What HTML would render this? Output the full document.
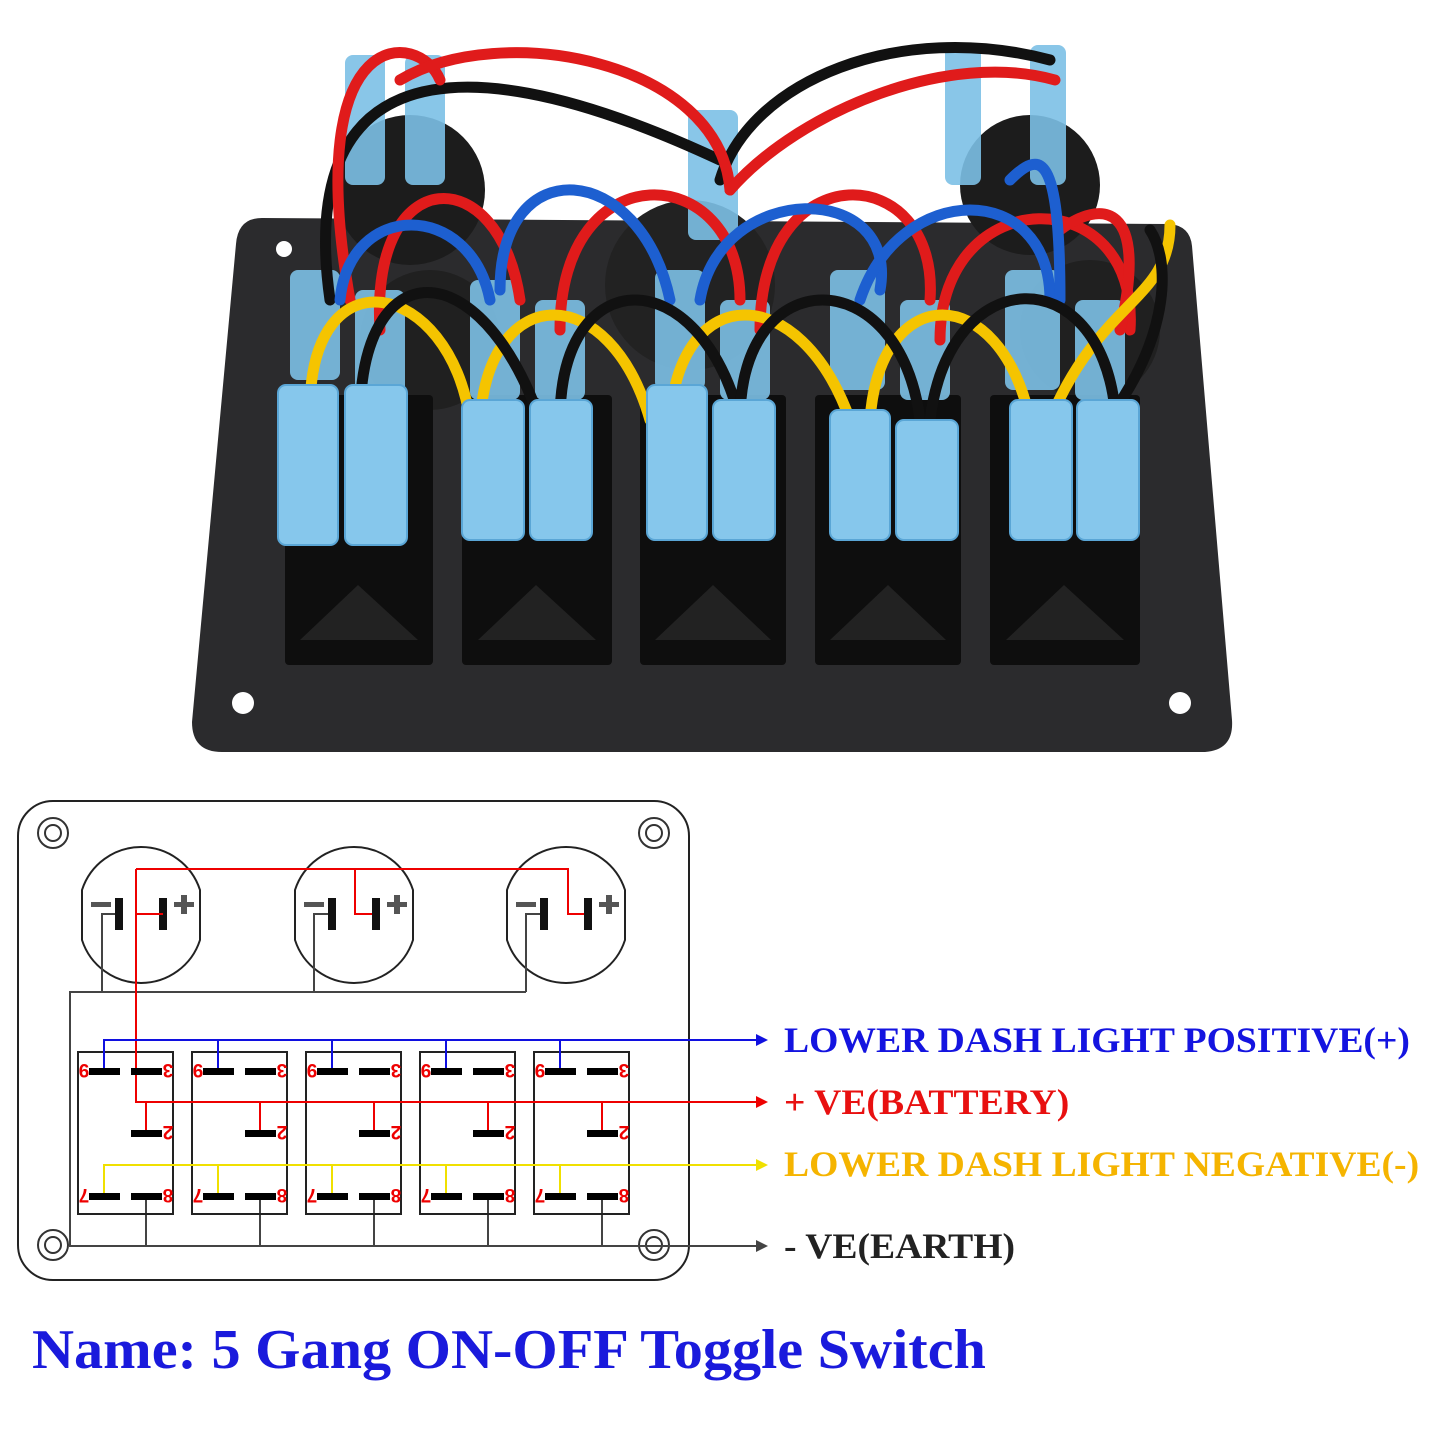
<!DOCTYPE html>
<html><head><meta charset="utf-8"><style>
html,body{margin:0;padding:0;background:#fff;}
body{width:1445px;height:1445px;position:relative;overflow:hidden;font-family:"Liberation Serif",serif;}
svg{position:absolute;left:0;top:0;}
.lbl{position:absolute;left:784px;font-weight:bold;font-size:36px;white-space:nowrap;line-height:1;transform:scaleX(1.045);transform-origin:0 0;}
.title{position:absolute;left:32px;top:1318px;font-weight:bold;font-size:56px;color:#1a1adc;white-space:nowrap;transform:scaleX(1.04);transform-origin:0 0;}
</style></head><body>
<svg width="1445" height="1445" viewBox="0 0 1445 1445">
<!-- PHOTO -->
<path d="M262,218 L1170,224 Q1190,226 1192,246 L1232,720 Q1234,750 1205,752 L222,752 Q192,752 192,722 L236,244 Q238,218 262,218 Z" fill="#2b2b2d"/>
<circle cx="284" cy="249" r="8" fill="#fff"/>
<circle cx="243" cy="703" r="11" fill="#fff"/>
<circle cx="1180" cy="703" r="11" fill="#fff"/>
<circle cx="410" cy="190" r="75" fill="#1c1c1c"/>
<circle cx="1030" cy="185" r="70" fill="#1c1c1c"/>
<circle cx="690" cy="285" r="85" fill="#222"/>
<circle cx="430" cy="340" r="70" fill="#202020"/>
<circle cx="1090" cy="330" r="70" fill="#202020"/>
<g fill="#0e0e0e">
<rect x="285" y="395" width="148" height="270" rx="4"/>
<rect x="462" y="395" width="150" height="270" rx="4"/>
<rect x="640" y="395" width="146" height="270" rx="4"/>
<rect x="815" y="395" width="146" height="270" rx="4"/>
<rect x="990" y="395" width="150" height="270" rx="4"/>
</g>
<g fill="#222"><path d="M300,640 L358,585 L418,640Z"/><path d="M478,640 L536,585 L596,640Z"/><path d="M655,640 L713,585 L771,640Z"/><path d="M830,640 L888,585 L946,640Z"/><path d="M1006,640 L1064,585 L1124,640Z"/></g>
<g fill="#7cc0e6" opacity="0.9">
<rect x="290" y="270" width="50" height="110" rx="8"/><rect x="355" y="290" width="50" height="110" rx="8"/>
<rect x="470" y="280" width="50" height="120" rx="8"/><rect x="535" y="300" width="50" height="100" rx="8"/>
<rect x="655" y="270" width="50" height="120" rx="8"/><rect x="720" y="300" width="50" height="100" rx="8"/>
<rect x="830" y="270" width="55" height="120" rx="8"/><rect x="900" y="300" width="50" height="100" rx="8"/>
<rect x="1005" y="270" width="55" height="120" rx="8"/><rect x="1075" y="300" width="50" height="100" rx="8"/>
<rect x="345" y="55" width="40" height="130" rx="8"/><rect x="405" y="55" width="40" height="130" rx="8"/>
<rect x="688" y="110" width="50" height="130" rx="8"/>
<rect x="945" y="45" width="36" height="140" rx="8"/><rect x="1030" y="45" width="36" height="140" rx="8"/>
</g>
<g fill="none" stroke-width="11" stroke-linecap="round">
<path d="M330,300 C300,90 420,20 720,160" stroke="#111"/>
<path d="M720,180 C750,80 900,20 1050,60" stroke="#111"/>
<path d="M350,300 C300,20 420,30 440,80" stroke="#e01b1b"/>
<path d="M400,80 C500,20 720,60 730,190" stroke="#e01b1b"/>
<path d="M730,190 C800,110 950,50 1055,80" stroke="#e01b1b"/>
<path d="M380,330 C370,160 500,160 520,300" stroke="#e01b1b"/>
<path d="M560,330 C560,150 740,160 740,300" stroke="#e01b1b"/>
<path d="M760,330 C760,150 940,160 930,300" stroke="#e01b1b"/>
<path d="M940,340 C940,180 1140,180 1130,330" stroke="#e01b1b"/>
<path d="M1120,330 C1150,200 1100,200 1060,230" stroke="#e01b1b"/>
<path d="M340,300 C350,200 470,200 490,300" stroke="#1d5fd0"/>
<path d="M500,290 C500,150 640,160 670,300" stroke="#1d5fd0"/>
<path d="M700,300 C720,180 900,180 880,290" stroke="#1d5fd0"/>
<path d="M860,300 C900,180 1050,180 1050,300" stroke="#1d5fd0"/>
<path d="M1060,300 C1060,150 1040,150 1010,180" stroke="#1d5fd0"/>
<path d="M310,410 C310,250 450,280 470,420" stroke="#f5c400"/>
<path d="M480,420 C490,280 610,280 650,420" stroke="#f5c400"/>
<path d="M670,420 C680,280 800,280 850,420" stroke="#f5c400"/>
<path d="M870,420 C880,280 1000,280 1030,420" stroke="#f5c400"/>
<path d="M1050,420 C1100,300 1170,300 1170,225" stroke="#f5c400"/>
<path d="M360,420 C360,250 480,250 540,420" stroke="#111"/>
<path d="M560,420 C560,260 700,260 740,420" stroke="#111"/>
<path d="M740,420 C740,260 900,260 920,420" stroke="#111"/>
<path d="M930,420 C950,260 1100,260 1115,410" stroke="#111"/>
<path d="M1115,410 C1170,330 1170,260 1150,230" stroke="#111"/>
</g>
<g fill="#86c7ec" stroke="#5aa6d6" stroke-width="2">
<rect x="278" y="385" width="60" height="160" rx="8"/><rect x="345" y="385" width="62" height="160" rx="8"/>
<rect x="462" y="400" width="62" height="140" rx="8"/><rect x="530" y="400" width="62" height="140" rx="8"/>
<rect x="647" y="385" width="60" height="155" rx="8"/><rect x="713" y="400" width="62" height="140" rx="8"/>
<rect x="830" y="410" width="60" height="130" rx="8"/><rect x="896" y="420" width="62" height="120" rx="8"/>
<rect x="1010" y="400" width="62" height="140" rx="8"/><rect x="1077" y="400" width="62" height="140" rx="8"/>
</g>

<!-- DIAGRAM -->
<rect x="18" y="801" width="671" height="479" rx="35" fill="none" stroke="#222" stroke-width="2"/>
<g fill="none" stroke="#333" stroke-width="2">
<circle cx="53" cy="833" r="15"/><circle cx="53" cy="833" r="8"/>
<circle cx="654" cy="833" r="15"/><circle cx="654" cy="833" r="8"/>
<circle cx="53" cy="1245" r="15"/><circle cx="53" cy="1245" r="8"/>
<circle cx="654" cy="1245" r="15"/><circle cx="654" cy="1245" r="8"/>
</g>
<g fill="none" stroke="#222" stroke-width="2">
<path d="M82,890 A62,62 0 0 1 200,890 L200,940 A62,62 0 0 1 82,940 Z"/>
<path d="M295,890 A62,62 0 0 1 413,890 L413,940 A62,62 0 0 1 295,940 Z"/>
<path d="M507,890 A62,62 0 0 1 625,890 L625,940 A62,62 0 0 1 507,940 Z"/>
</g>
<g fill="none" stroke="#444" stroke-width="2">
<path d="M119,914 L102,914 L102,992"/>
<path d="M331,914 L314,914 L314,992"/>
<path d="M543,914 L526,914 L526,992"/>
<path d="M526,992 L70,992 L70,1246 L762,1246"/>
<path d="M146,1196 V1246 M260,1196 V1246 M374,1196 V1246 M488,1196 V1246 M602,1196 V1246"/>
</g>
<path d="M756,1240 L768,1246 L756,1252Z" fill="#444"/>
<g fill="#111">
<rect x="115" y="898" width="8" height="32"/><rect x="159" y="898" width="8" height="32"/>
<rect x="328" y="898" width="8" height="32"/><rect x="372" y="898" width="8" height="32"/>
<rect x="540" y="898" width="8" height="32"/><rect x="584" y="898" width="8" height="32"/>
</g>
<g fill="#555">
<rect x="91" y="902" width="20" height="5"/><rect x="304" y="902" width="20" height="5"/><rect x="516" y="902" width="20" height="5"/>
<rect x="174" y="902" width="20" height="5"/><rect x="181" y="895" width="6" height="19"/>
<rect x="387" y="902" width="20" height="5"/><rect x="394" y="895" width="6" height="19"/>
<rect x="599" y="902" width="20" height="5"/><rect x="606" y="895" width="6" height="19"/>
</g>
<g fill="none" stroke="#222" stroke-width="2">
<rect x="78" y="1052" width="95" height="162"/><rect x="192" y="1052" width="95" height="162"/><rect x="306" y="1052" width="95" height="162"/><rect x="420" y="1052" width="95" height="162"/><rect x="534" y="1052" width="95" height="162"/>
</g>
<g fill="none" stroke="#e00" stroke-width="2">
<path d="M163,914 L136,914 M136,869 L568,869 L568,914 L584,914 M355,869 L355,914 L372,914 M136,869 L136,1102 L762,1102"/>
<path d="M146,1102 V1133 M260,1102 V1133 M374,1102 V1133 M488,1102 V1133 M602,1102 V1133"/>
</g>
<path d="M756,1096 L768,1102 L756,1108Z" fill="#e00"/>
<g fill="none" stroke="#1010e0" stroke-width="2">
<path d="M104,1071 V1040 H762 M218,1040 V1071 M332,1040 V1071 M446,1040 V1071 M560,1040 V1071"/>
</g>
<path d="M756,1034 L768,1040 L756,1046Z" fill="#1010e0"/>
<g fill="none" stroke="#f0e000" stroke-width="2">
<path d="M104,1196 V1165 H762 M218,1165 V1196 M332,1165 V1196 M446,1165 V1196 M560,1165 V1196"/>
</g>
<path d="M756,1159 L768,1165 L756,1171Z" fill="#f0e000"/>
<g fill="#000">
<g id="pins">
<rect x="89" y="1068" width="31" height="7"/><rect x="131" y="1068" width="31" height="7"/>
<rect x="131" y="1130" width="31" height="7"/>
<rect x="89" y="1193" width="31" height="7"/><rect x="131" y="1193" width="31" height="7"/>
</g>
<use href="#pins" x="114"/><use href="#pins" x="228"/><use href="#pins" x="342"/><use href="#pins" x="456"/>
</g>
<g font-family="Liberation Sans, sans-serif" font-weight="bold" font-size="19" fill="#e00" text-anchor="middle">
<g id="nums">
<text transform="translate(84,1071) rotate(180)" y="7">9</text>
<text transform="translate(168,1071) rotate(180)" y="7">3</text>
<text transform="translate(168,1133) rotate(180)" y="7">2</text>
<text transform="translate(84,1196) rotate(180)" y="7">7</text>
<text transform="translate(168,1196) rotate(180)" y="7">8</text>
</g>
<use href="#nums" x="114"/><use href="#nums" x="228"/><use href="#nums" x="342"/><use href="#nums" x="456"/>
</g>
</svg>
<div class="lbl" style="top:1022px;color:#1414e0;">LOWER DASH LIGHT POSITIVE(+)</div>
<div class="lbl" style="top:1084px;color:#e81010;">+ VE(BATTERY)</div>
<div class="lbl" style="top:1146px;color:#f5b400;">LOWER DASH LIGHT NEGATIVE(-)</div>
<div class="lbl" style="top:1228px;color:#222;">- VE(EARTH)</div>
<div class="title">Name: 5 Gang ON-OFF Toggle Switch</div>
</body></html>
